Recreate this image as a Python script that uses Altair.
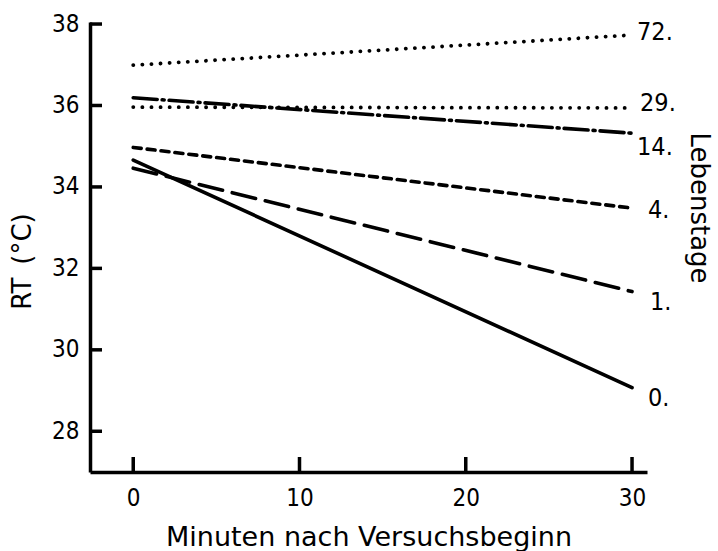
import altair as alt
import pandas as pd

# ---- data ----
days = ["0.", "1.", "4.", "14.", "29.", "72."]
rt_start = [34.66, 34.46, 34.97, 36.19, 35.96, 36.99]   # RT at minute 0
rt_end = [29.07, 31.43, 33.48, 35.32, 35.94, 37.73]     # RT at minute 30
minutes = [0, 30]
x_ticks = [0, 10, 20, 30]
y_ticks = [28, 30, 32, 34, 36, 38]

# ---- styling ----
FONT = "DejaVu Sans Condensed, Liberation Sans Narrow, DejaVu Sans"
TFONT = "DejaVu Sans"
FS = 24
TFS = 27
W, H = 557, 450
XDOM = [-2.6, 30.9]
YDOM = [27, 38.05]

styles = {
    "0.":  dict(dash=None,            width=3.6, dx=16, dy=10),
    "1.":  dict(dash=[24, 10],        width=3.6, dx=18, dy=10),
    "4.":  dict(dash=[8, 6],          width=3.6, dx=16, dy=2),
    "14.": dict(dash=[24, 5, 2, 5],   width=3.6, dx=5,  dy=14),
    "29.": dict(dash=[0.1, 9],        width=3.8, dx=8,  dy=-5),
    "72.": dict(dash=[0.1, 9],        width=3.8, dx=5,  dy=-3),
}

xs = alt.Scale(domain=XDOM, nice=False, zero=False)
ys = alt.Scale(domain=YDOM, nice=False, zero=False)

AX_Y = alt.Axis(values=y_ticks, ticks=False, grid=False, domain=True,
                domainColor="black", domainWidth=3.5,
                labelFont=FONT, labelFontSize=FS, labelColor="black",
                labelPadding=11, labelOverlap=False, labelFlush=False,
                title="RT\u2002(°C)", titleFont=TFONT, titleFontSize=TFS - 1,
                titleFontWeight="normal", titleColor="black",
                titleX=-68, titleY=239, titleAngle=-90,
                titleAlign="center", titleBaseline="middle")
AX_X = alt.Axis(values=x_ticks, ticks=False, grid=False, domain=True,
                domainColor="black", domainWidth=3.5,
                labelFont=FONT, labelFontSize=FS, labelColor="black",
                labelPadding=26, labelBaseline="middle",
                labelOverlap=False, labelFlush=False,
                title="Minuten nach Versuchsbeginn", titleFont=TFONT,
                titleFontSize=TFS, titleFontWeight="normal",
                titleColor="black", titleY=65, titleBaseline="middle")

rows = []
for d, a, b in zip(days, rt_start, rt_end):
    rows.append({"day": d, "min": minutes[0], "rt": a})
    rows.append({"day": d, "min": minutes[1], "rt": b})
df = pd.DataFrame(rows)

layers = []

xt_df = pd.DataFrame({"min": x_ticks})
yt_df = pd.DataFrame({"rt": y_ticks})

# inward y ticks
layers.append(
    alt.Chart(yt_df).mark_rule(stroke="black", strokeWidth=3.5).encode(
        y=alt.Y("rt:Q", scale=ys, axis=AX_Y),
        x=alt.value(0),
        x2=alt.value(12),
    )
)
# inward x ticks
layers.append(
    alt.Chart(xt_df).mark_rule(stroke="black", strokeWidth=3.5).encode(
        x=alt.X("min:Q", scale=xs, axis=AX_X),
        y=alt.value(H),
        y2=alt.value(H - 15),
    )
)

for i, d in enumerate(days):
    st = styles[d]
    kw = dict(stroke="black", strokeWidth=st["width"], strokeCap="round")
    if st["dash"] is not None:
        kw["strokeDash"] = st["dash"]
    sub = df[df["day"] == d]
    layers.append(
        alt.Chart(sub).mark_line(**kw).encode(
            x=alt.X("min:Q", scale=xs, axis=AX_X),
            y=alt.Y("rt:Q", scale=ys, axis=AX_Y),
        )
    )
    lab = pd.DataFrame({"day": [d], "min": [minutes[1]], "rt": [rt_end[i]]})
    layers.append(
        alt.Chart(lab).mark_text(font=FONT, fontSize=FS + 1, color="black", align="left",
                                 baseline="middle", dx=st["dx"], dy=st["dy"]).encode(
            x=alt.X("min:Q", scale=xs, axis=AX_X),
            y=alt.Y("rt:Q", scale=ys, axis=AX_Y),
            text="day:N",
        )
    )

right_title = alt.Chart(pd.DataFrame({"t": ["Lebenstage"]})).mark_text(
    font=TFONT, fontSize=TFS - 1, color="black", angle=90, align="center", baseline="middle"
).encode(text="t:N", x=alt.value(609), y=alt.value(186))
layers.append(right_title)

chart = alt.layer(*layers).properties(
    width=W, height=H,
    autosize=alt.AutoSizeParams(type="none"),
    padding={"left": 90, "top": 22, "right": 71, "bottom": 79},
    background="white",
).configure_view(stroke=None)

chart.save("out.html", embed_options={"renderer": "svg", "actions": False})
